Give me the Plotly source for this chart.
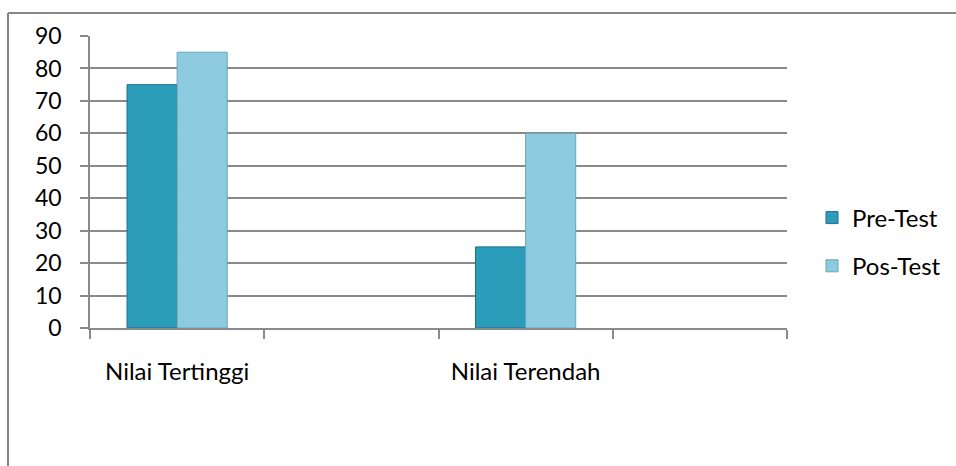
import plotly.graph_objects as go

categories = ["Nilai Tertinggi", " ", "Nilai Terendah", "  "]
pre_test = [75, None, 25, None]
pos_test = [85, None, 60, None]
series_names = ["Pre-Test", "Pos-Test"]
y_ticks = [0, 10, 20, 30, 40, 50, 60, 70, 80, 90]

FONT = "Lato"
GRID = "#8a8a8a"
FS = 23

fig = go.Figure()
fig.add_trace(go.Bar(
    x=categories, y=pre_test, name=series_names[0],
    marker=dict(color="#2b9dba", line=dict(color="#1e6f86", width=1)),
    legendgroup="a",
))
fig.add_trace(go.Bar(
    x=categories, y=pos_test, name=series_names[1],
    marker=dict(color="#8ccbe0", line=dict(color="#6aa4b8", width=1)),
    legendgroup="b",
))

L, R, T, B = 90, 169, 36, 138
W, H = 956, 466
pw, ph = W - L - R, H - T - B

def px_to_paper_x(px):
    return (px - L) / pw

def px_to_paper_y(py):
    return (H - B - py) / ph

fig.update_layout(
    width=W, height=H,
    margin=dict(l=L, r=R, t=T, b=B, autoexpand=False),
    paper_bgcolor="white", plot_bgcolor="white",
    barmode="group", bargap=0.425, bargroupgap=0.0,
    font=dict(family=FONT, color="#000000", size=FS),
    legend=dict(
        x=px_to_paper_x(812), xanchor="left",
        y=px_to_paper_y(242), yanchor="middle",
        font=dict(family=FONT, size=24, color="#000000"),
        traceorder="grouped", tracegroupgap=14,
        itemwidth=30,
        bgcolor="rgba(0,0,0,0)",
    ),
    showlegend=True,
    xaxis=dict(
        type="category", categoryorder="array", categoryarray=categories,
        tickson="boundaries", ticks="outside", ticklen=9, tickwidth=1.5,
        tickcolor=GRID, showline=True, linecolor=GRID, linewidth=1.5,
        showgrid=False, ticklabelstandoff=21,
        tickfont=dict(family=FONT, size=24, color="#000000"),
        fixedrange=True,
    ),
    yaxis=dict(
        range=[0, 90], tickvals=y_ticks, ticks="outside", ticklen=8,
        tickwidth=1.5, tickcolor=GRID, showline=True, linecolor=GRID,
        linewidth=1.5, showgrid=True, gridcolor=GRID, gridwidth=1.5,
        zeroline=False, ticklabelstandoff=14,
        tickfont=dict(family=FONT, size=FS, color="#000000"),
    ),
    shapes=[
        dict(type="line", xref="paper", yref="paper",
             x0=px_to_paper_x(8), x1=px_to_paper_x(960),
             y0=px_to_paper_y(13), y1=px_to_paper_y(13),
             line=dict(color="#878787", width=2)),
        dict(type="line", xref="paper", yref="paper",
             x0=px_to_paper_x(8), x1=px_to_paper_x(8),
             y0=px_to_paper_y(13), y1=px_to_paper_y(470),
             line=dict(color="#878787", width=2)),
    ],
)

fig.write_html("out.html")
